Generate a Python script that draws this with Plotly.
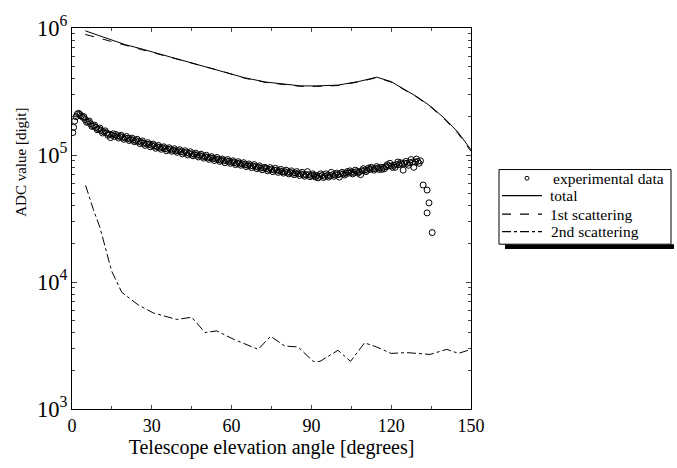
import plotly.graph_objects as go

# ---- data ----
exp_angle = [0.3, 0.6, 1.0, 1.5, 2.0, 2.5, 3.0, 3.5, 4, 5, 6, 7, 8, 9, 10, 11, 12, 13, 14, 15,
             16, 17, 18, 19, 20, 21, 22, 23, 24, 25, 26, 27, 28, 29, 30, 31, 32, 33, 34, 35,
             36, 37, 38, 39, 40, 41, 42, 43, 44, 45, 46, 47, 48, 49, 50, 51, 52, 53, 54, 55,
             56, 57, 58, 59, 60, 61, 62, 63, 64, 65, 66, 67, 68, 69, 70, 71, 72, 73, 74, 75,
             76, 77, 78, 79, 80, 81, 82, 83, 84, 85, 86, 87, 88, 89, 90, 91, 92, 93, 94, 95,
             96, 97, 98, 99, 100, 101, 102, 103, 104, 105, 106, 107, 108, 109, 110, 111, 112,
             113, 114, 115, 116, 117, 118, 119, 120, 121, 122, 123, 124, 125, 126, 127, 128,
             129, 130, 131,
             # scattered points between the whole degrees
             4.5, 5.5, 6.5, 7.5, 8.5, 9.5, 10.5, 11.5, 12.5, 13.5, 14.5, 15.5, 16.5, 17.5,
             18.5, 19.5, 20.5, 21.5, 22.5, 23.5, 24.5, 25.5, 26.5, 27.5, 28.5, 29.5, 30.5,
             31.5, 32.5, 33.5, 34.5, 35.5, 36.5, 37.5, 38.5, 39.5, 40.5, 41.5, 42.5, 43.5,
             44.5, 45.5, 46.5, 47.5, 48.5, 49.5, 50.5, 51.5, 52.5, 53.5, 54.5, 55.5, 56.5,
             57.5, 58.5, 59.5, 60.5, 61.5, 62.5, 63.5, 64.5, 65.5, 66.5, 67.5, 68.5, 69.5,
             70.5, 71.5, 72.5, 73.5, 74.5, 75.5, 76.5, 77.5, 78.5, 79.5, 80.5, 81.5, 82.5,
             83.5, 84.5, 85.5, 86.5, 87.5, 88.5, 89.5, 90.5, 91.5, 92.5, 93.5, 94.5, 95.5,
             96.5, 97.5, 98.5, 99.5, 100.5, 101.5, 102.5, 103.5, 104.5, 105.5, 106.5, 107.5,
             108.5, 109.5, 110.5, 111.5, 112.5, 113.5, 114.5, 115.5, 116.5, 117.5, 118.5,
             119.5, 120.5, 121.5, 122.5, 123.5, 124.5, 125.5, 126.5, 127.5, 128.5, 129.5,
             130.5,
             # drop at the end
             132.0, 133.5, 134.2, 133.5, 135.4]
exp_value = [150e3, 165e3, 185e3, 200e3, 210e3, 213e3, 208e3, 203e3, 198e3, 190e3, 183e3,
             176e3, 170e3, 165e3, 160e3, 156e3, 152e3, 149e3, 146e3, 143e3, 140e3, 141e3,
             140e3, 138e3, 136e3, 135e3, 133e3, 131e3, 130e3, 128e3, 126e3, 124e3, 122e3,
             121e3, 119e3, 118e3, 116e3, 115e3, 114e3, 112e3, 111e3, 111e3, 109e3, 108e3,
             108e3, 106e3, 105e3, 104e3, 103e3, 102e3, 101e3, 100e3, 99e3, 98e3, 97e3, 96e3,
             95e3, 94e3, 93e3, 92e3, 91e3, 90e3, 90e3, 89e3, 88e3, 87e3, 86e3, 86e3, 85e3,
             84e3, 83e3, 82e3, 82e3, 81e3, 80e3, 79e3, 79e3, 78e3, 77e3, 77e3, 76e3, 76e3,
             75e3, 74e3, 74e3, 73e3, 73e3, 72e3, 72e3, 71e3, 71e3, 70e3, 70e3, 70e3, 69e3,
             69e3, 69e3, 68e3, 69e3, 68e3, 69e3, 69e3, 70e3, 70e3, 70e3, 71e3, 71e3, 72e3,
             72e3, 73e3, 73e3, 74e3, 74e3, 75e3, 76e3, 76e3, 77e3, 78e3, 78e3, 79e3, 80e3,
             80e3, 81e3, 82e3, 82e3, 83e3, 84e3, 84e3, 85e3, 86e3, 86e3, 87e3, 88e3, 88e3,
             89e3, 90e3,
             200e3, 181e3, 185e3, 168e3, 172e3, 158e3, 163e3, 149e3, 155e3, 143e3, 137e3,
             147e3, 145e3, 136e3, 143e3, 133e3, 140e3, 130e3, 136e3, 127e3, 133e3, 123e3,
             129e3, 119e3, 125e3, 116e3, 122e3, 113e3, 119e3, 111e3, 116e3, 108e3, 114e3,
             107e3, 112e3, 105e3, 110e3, 102e3, 108e3, 100e3, 106e3, 98.5e3, 103.5e3,
             96.5e3, 101.5e3, 94.5e3, 99.5e3, 92.5e3, 97e3, 90.5e3, 95.5e3, 89e3, 93e3, 87e3,
             92e3, 86e3, 90e3, 84e3, 88.5e3, 83e3, 87e3, 81e3, 85e3, 79.5e3, 84e3, 78e3,
             82e3, 76.5e3, 80e3, 75e3, 79.5e3, 74e3, 78.5e3, 73e3, 77e3, 72e3, 76e3, 71e3,
             75e3, 70e3, 74e3, 69e3, 73e3, 68e3, 74e3, 67.5e3, 71e3, 67e3, 66e3, 71e3,
             66.5e3, 71e3, 67e3, 73e3, 68e3, 72e3, 67e3, 73e3, 69.5e3, 74e3, 75e3, 71e3,
             76e3, 72e3, 70e3, 78e3, 74e3, 79e3, 80e3, 76e3, 81e3, 77e3, 77e3, 78e3, 84e3,
             86e3, 80e3, 80e3, 88e3, 87e3, 76e3, 89e3, 83e3, 92e3, 80e3, 93e3, 86e3,
             58e3, 53e3, 42e3, 35e3, 24.5e3]

calc_angle = [5, 10, 15, 20, 25, 30, 40, 50, 58, 65, 73, 80, 86, 92, 100, 108, 114.6,
              120, 125, 130, 135, 140, 145, 150]
total_value = [950e3, 870e3, 800e3, 740e3, 695e3, 650e3, 570e3, 500e3, 450e3, 405e3,
               375e3, 360e3, 350e3, 350e3, 355e3, 380e3, 410e3, 378e3, 330e3, 285e3,
               240e3, 195e3, 152e3, 110e3]
first_value = [890e3, 835e3, 785e3, 730e3, 688e3, 644e3, 565e3, 496e3, 446e3, 402e3,
               372e3, 357e3, 347e3, 347e3, 352e3, 377e3, 407e3, 375e3, 327e3, 282e3,
               237e3, 192e3, 149e3, 107e3]

second_angle = [5.1, 8.0, 10.5, 14.9, 18.7, 24.9, 30.6, 39.4, 45.0, 50.0, 54.4, 61.0,
                70.0, 74.7, 80.0, 85.0, 90.7, 93.2, 100.0, 104.7, 110.0, 114.5, 120.0,
                125.8, 134.6, 140.9, 145.3, 148.4, 150.0]
second_value = [57.7e3, 37.4e3, 26.9e3, 12.2e3, 8.3e3, 6.6e3, 5.7e3, 5.07e3, 5.28e3,
                4.0e3, 4.12e3, 3.52e3, 2.95e3, 3.74e3, 3.13e3, 3.08e3, 2.37e3, 2.37e3,
                2.9e3, 2.37e3, 3.32e3, 3.08e3, 2.74e3, 2.78e3, 2.69e3, 2.95e3, 2.74e3,
                2.9e3, 2.95e3]

x_ticks = [0, 30, 60, 90, 120, 150]
legend_labels = ["experimental data", "total", "1st scattering", "2nd scattering"]

# ---- figure ----
FONT = "Liberation Serif"
fig = go.Figure()
fig.add_trace(go.Scatter(x=exp_angle, y=exp_value, mode="markers", name=legend_labels[0],
                         marker=dict(symbol="circle-open", size=6, color="black",
                                     line=dict(width=1, color="black"))))
fig.add_trace(go.Scatter(x=calc_angle, y=total_value, mode="lines", name=legend_labels[1],
                         line=dict(color="black", width=1)))
fig.add_trace(go.Scatter(x=calc_angle, y=first_value, mode="lines", name=legend_labels[2],
                         line=dict(color="black", width=1, dash="dash")))
fig.add_trace(go.Scatter(x=second_angle, y=second_value, mode="lines", name=legend_labels[3],
                         line=dict(color="black", width=1, dash="dashdot")))

W, H = 677, 468
L, R, T, B = 72, 471, 16, 409


def px(x):
    return (x - L) / (R - L)


def py(y):
    return (B - y) / (B - T)


# hand-built legend box (to match the tight row spacing of the original)
leg_rows = [171, 189, 208, 226]
shapes = [
    dict(type="rect", xref="paper", yref="paper", x0=px(505), x1=px(674),
         y0=py(244), y1=py(239), fillcolor="black", line=dict(width=0)),
    dict(type="rect", xref="paper", yref="paper", x0=px(499), x1=px(671),
         y0=py(239), y1=py(162), fillcolor="white", line=dict(color="black", width=1)),
    dict(type="circle", xref="paper", yref="paper", x0=px(525), x1=px(529),
         y0=py(leg_rows[0] + 2), y1=py(leg_rows[0] - 2),
         line=dict(color="black", width=1), fillcolor="white"),
]
for row, dash in zip(leg_rows[1:], ["solid", "dash", "dashdot"]):
    shapes.append(dict(type="line", xref="paper", yref="paper", x0=px(502), x1=px(542),
                       y0=py(row), y1=py(row), line=dict(color="black", width=1.3, dash=dash)))

annotations = [dict(text="ADC value [digit]", xref="paper", yref="paper",
                    x=px(21), y=py(155), xanchor="center", yanchor="middle",
                    textangle=-90, showarrow=False,
                    font=dict(family=FONT, size=15, color="black"))]
for row, lab, x0 in zip(leg_rows, legend_labels, [551, 548, 548, 549]):
    annotations.append(dict(text=lab, xref="paper", yref="paper", x=px(x0), y=py(row),
                            xanchor="left", yanchor="middle", showarrow=False,
                            font=dict(family=FONT, size=15.5, color="black")))

fig.update_layout(
    width=W, height=H,
    margin=dict(l=L, r=W - R, t=T, b=H - B),
    paper_bgcolor="white", plot_bgcolor="white",
    font=dict(family=FONT, color="black", size=17),
    showlegend=False,
    xaxis=dict(range=[0, 150], tickvals=x_ticks, ticks="inside", ticklen=4,
               showline=True, linecolor="black", linewidth=1, mirror="ticks",
               showgrid=False, zeroline=False,
               minor=dict(dtick=15, ticks="inside", ticklen=3, showgrid=False),
               tickfont=dict(family=FONT, size=18),
               title=dict(text="Telescope elevation angle [degrees]",
                          font=dict(family=FONT, size=20), standoff=4)),
    yaxis=dict(type="log", range=[3, 6], dtick=1, exponentformat="power",
               ticks="inside", ticklen=5,
               showline=True, linecolor="black", linewidth=1, mirror="ticks",
               showgrid=False, zeroline=False,
               minor=dict(dtick="D1", ticks="inside", ticklen=3, showgrid=False),
               tickfont=dict(family=FONT, size=18)),
    annotations=annotations,
    shapes=shapes,
)

fig.write_html("out.html")
